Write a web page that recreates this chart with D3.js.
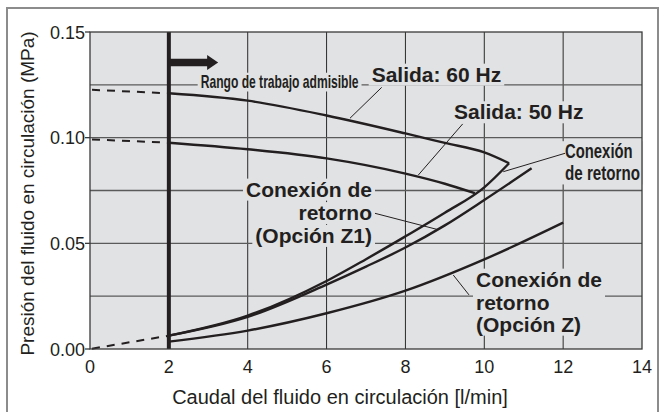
<!DOCTYPE html>
<html>
<head>
<meta charset="utf-8">
<script src="https://cdn.jsdelivr.net/npm/d3@7"></script>
<style>
body { margin: 0; background: #fff; }
text { font-family: "Liberation Sans", Arial, Helvetica, sans-serif; fill: #231f20; }
.bold { font-weight: bold; }
</style>
</head>
<body>
<div id="chart"></div>
<script>
// Axis ticks and grid
var xTicks = [0, 2, 4, 6, 8, 10, 12, 14];
var yTicks = [0, 0.05, 0.10, 0.15];
var xGrid = [2, 4, 6, 8, 10, 12];
var yGrid = [0.025, 0.05, 0.075, 0.10, 0.125];

// Pump curves (outlet pressure)
var flow60 = [2, 4, 6, 8, 9, 10, 10.63];
var press60 = [0.121, 0.1175, 0.1105, 0.102, 0.0975, 0.093, 0.0879];
var flow50 = [2, 4, 6, 8, 9, 9.76];
var press50 = [0.0976, 0.0945, 0.0902, 0.083, 0.0782, 0.0737];

// Return connection pressure loss
var flowRet = [2, 4, 6, 7, 8, 9, 10, 10.63];
var pressRet = [0.0063, 0.0158, 0.0322, 0.0425, 0.0533, 0.0645, 0.0765, 0.0879];
var flowZ1 = [2, 4, 6, 7, 8, 9, 10, 11.2];
var pressZ1 = [0.0063, 0.0152, 0.0305, 0.039, 0.048, 0.0585, 0.0705, 0.0855];
var flowZ = [2, 4, 6, 8, 10, 12];
var pressZ = [0.0035, 0.0087, 0.0169, 0.0276, 0.0424, 0.0598];

// Dashed part below the minimum flow
var flowExt = [0, 2];
var press60Ext = [0.1227, 0.121];
var press50Ext = [0.0992, 0.0976];
var pressRetExt = [0, 0.0063];

// Permissible range
var minFlow = 2;
var arrowFlow = 3.25;
var arrowPress = 0.1356;

var W = 661, H = 412;
var margin = { top: 32, right: 19, bottom: 63, left: 90 };
var width = W - margin.left - margin.right;
var height = H - margin.top - margin.bottom;
var ink = '#231f20';
var paper = '#e1e2e4';

var svg = d3.select('#chart').append('svg')
    .attr('width', W)
    .attr('height', H);

// outer frame
svg.append('rect')
    .attr('x', 7).attr('y', 8)
    .attr('width', 651).attr('height', 430)
    .attr('fill', 'none')
    .attr('stroke', '#8c8c8c')
    .attr('stroke-width', 2);

var g = svg.append('g')
    .attr('transform', 'translate(' + margin.left + ',' + margin.top + ')');

var x = d3.scaleLinear().domain([0, 14]).range([0, width]);
var y = d3.scaleLinear().domain([0, 0.15]).range([height, 0]);

g.append('rect')
    .attr('width', width).attr('height', height)
    .attr('fill', paper);

// Grid
g.selectAll('.vgrid').data(xGrid).enter().append('line')
    .attr('x1', d => x(d)).attr('x2', d => x(d))
    .attr('y1', 0).attr('y2', height)
    .attr('stroke', '#2a2a2a').attr('stroke-width', 1);
g.selectAll('.hgrid').data(yGrid).enter().append('line')
    .attr('x1', 0).attr('x2', width)
    .attr('y1', d => y(d)).attr('y2', d => y(d))
    .attr('stroke', '#5a5a5a').attr('stroke-width', 1.4);

var bgLayer = g.append('g');
var markLayer = g.append('g');
var textLayer = g.append('g');

// Curves
function makeLine(xs, ys) {
    return d3.line().curve(d3.curveMonotoneX)
        .x(function (d) { return x(d); })
        .y(function (d, i) { return y(ys[i]); })(xs);
}

var solid = [
    [flow60, press60], [flow50, press50],
    [flowRet, pressRet], [flowZ1, pressZ1], [flowZ, pressZ]
];
solid.forEach(function (s) {
    markLayer.append('path')
        .attr('d', makeLine(s[0], s[1]))
        .attr('fill', 'none')
        .attr('stroke', ink)
        .attr('stroke-width', 2.4);
});

[press60Ext, press50Ext, pressRetExt].forEach(function (p) {
    markLayer.append('path')
        .attr('d', makeLine(flowExt, p))
        .attr('fill', 'none')
        .attr('stroke', ink)
        .attr('stroke-width', 2)
        .attr('stroke-dasharray', '8 7')
        .attr('stroke-dashoffset', -2);
});

// min flow line + arrow
markLayer.append('line')
    .attr('x1', x(minFlow)).attr('x2', x(minFlow))
    .attr('y1', 0).attr('y2', height)
    .attr('stroke', ink).attr('stroke-width', 4);
markLayer.append('line')
    .attr('x1', x(minFlow)).attr('x2', x(arrowFlow) - 9)
    .attr('y1', y(arrowPress)).attr('y2', y(arrowPress))
    .attr('stroke', ink).attr('stroke-width', 7.5);
markLayer.append('path')
    .attr('d', 'M' + x(arrowFlow) + ',' + y(arrowPress) + 'l-11,-7.5v15z')
    .attr('fill', ink);

// Callout leader lines [x1, y1, x2, y2] in data units
var leaders = [
    [7.398, 0.1238, 6.594, 0.1092],
    [9.452, 0.1065, 8.326, 0.0823],
    [12.047, 0.0926, 10.482, 0.0839],
    [7.228, 0.0642, 8.80, 0.0566],
    [9.612, 0.0256, 9.214, 0.0350]
];
markLayer.selectAll('.leader').data(leaders).enter().append('line')
    .attr('x1', d => x(d[0])).attr('y1', d => y(d[1]))
    .attr('x2', d => x(d[2])).attr('y2', d => y(d[3]))
    .attr('stroke', ink).attr('stroke-width', 1);

// Labels (len = squeezed width for the condensed ones)
var labels = [
    { lines: ['Rango de trabajo admisible'], fx: 2.807, ys: [0.1235], anchor: 'start', size: 17.5, len: [158] },
    { lines: ['Salida: 60 Hz'], fx: 7.144, ys: [0.1265], anchor: 'start', size: 21 },
    { lines: ['Salida: 50 Hz'], fx: 9.231, ys: [0.1087], anchor: 'start', size: 21 },
    { lines: ['Conexión', 'de retorno'], fx: 12.047, ys: [0.0902, 0.080], anchor: 'start', size: 20, len: [67.7, 75], block: true },
    { lines: ['Conexión de', 'retorno', '(Opción Z1)'], fx: 7.152, ys: [0.0721, 0.061, 0.0502], anchor: 'end', size: 21 },
    { lines: ['Conexión de', 'retorno', '(Opción Z)'], fx: 9.79, ys: [0.0295, 0.01845, 0.0082], anchor: 'start', size: 21, block: true }
];

labels.forEach(function (lab) {
    var boxes = [];
    lab.lines.forEach(function (t, i) {
        var px = x(lab.fx), py = y(lab.ys[i]);
        var txt = textLayer.append('text')
            .attr('class', 'bold')
            .attr('text-anchor', lab.anchor)
            .style('font-size', lab.size + 'px')
            .text(t);
        var k = 1;
        if (lab.len) {
            k = lab.len[i] / txt.node().getComputedTextLength();
        }
        txt.attr('transform', 'translate(' + px + ',' + py + ') scale(' + k + ',1)');
        var b = txt.node().getBBox();
        boxes.push({ x: px + b.x * k, y: py + b.y, width: b.width * k, height: b.height });
    });
    if (lab.block) {
        var x0 = d3.min(boxes, b => b.x), x1 = d3.max(boxes, b => b.x + b.width);
        var y0 = d3.min(boxes, b => b.y), y1 = d3.max(boxes, b => b.y + b.height);
        boxes = [{ x: x0, y: y0, width: x1 - x0, height: y1 - y0 }];
    }
    boxes.forEach(function (b) {
        bgLayer.append('rect')
            .attr('x', b.x - 3).attr('y', b.y + 1)
            .attr('width', b.width + 6).attr('height', b.height - 1)
            .attr('fill', paper);
    });
});

// Plot border
g.append('rect')
    .attr('width', width).attr('height', height)
    .attr('fill', 'none')
    .attr('stroke', '#3a3a3a')
    .attr('stroke-width', 1.3);

// Y ticks
g.selectAll('.ytick').data(yTicks).enter().append('line')
    .attr('x1', -5).attr('x2', 0)
    .attr('y1', d => y(d)).attr('y2', d => y(d))
    .attr('stroke', '#3a3a3a').attr('stroke-width', 1.3);
g.selectAll('.ylab').data(yTicks).enter().append('text')
    .attr('x', -5)
    .attr('y', d => y(d) + 6.5)
    .attr('text-anchor', 'end')
    .style('font-size', '18px')
    .text(d3.format('.2f'));

// X ticks
g.selectAll('.xlab').data(xTicks).enter().append('text')
    .attr('x', d => x(d))
    .attr('y', height + 24)
    .attr('text-anchor', 'middle')
    .style('font-size', '18px')
    .text(d => d);

// Axis titles
svg.append('text')
    .attr('x', 340).attr('y', 404)
    .attr('text-anchor', 'middle')
    .style('font-size', '20px')
    .text('Caudal del fluido en circulación [l/min]');
svg.append('text')
    .attr('transform', 'translate(34,193.5) rotate(-90)')
    .attr('text-anchor', 'middle')
    .style('font-size', '19px')
    .text('Presión del fluido en circulación (MPa)');
</script>
</body>
</html>
